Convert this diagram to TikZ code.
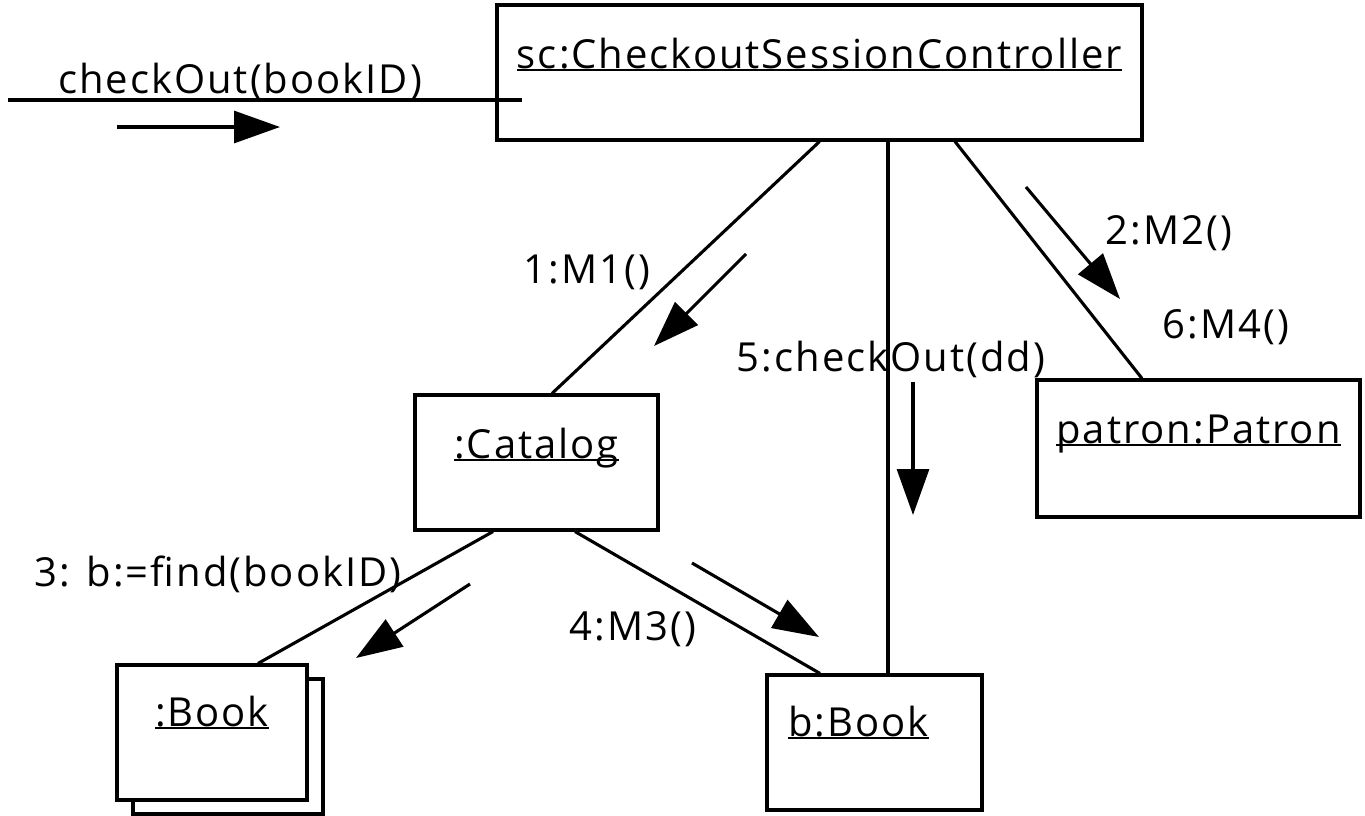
\documentclass[tikz,border=0pt]{standalone}
\usepackage{fontspec}
\setmainfont{Open Sans}[LetterSpace=5]
\usetikzlibrary{arrows.meta,calc}

% underlined object name, rule sitting just under the baseline
\newcommand\objul[1]{\setbox0\hbox{#1}\rlap{\rule[-3pt]{\wd0}{2.8pt}}\box0}

\tikzset{
  objbox/.style={draw, line width=3.1pt, fill=white, inner sep=0pt},
  lbl/.style={anchor=base, inner sep=0pt, font=\fontsize{40}{46}\selectfont},
  link/.style={line width=3.1pt},
  msg/.style={line width=3.1pt, -{Triangle[length=46pt,width=32pt]}},
}

\begin{document}
\begin{tikzpicture}[x=1pt,y=-1pt]
\useasboundingbox (0,0) rectangle (1365,815);

% objects
\node[objbox, minimum width=645, minimum height=135] (ctrl) at (819.5,72.5) {};
\node[objbox, minimum width=243, minimum height=135] (catalog) at (536.5,462.5) {};
\node[objbox, minimum width=323, minimum height=137] (patron) at (1198.5,448.5) {};
\node[objbox, minimum width=215, minimum height=135] (bbook) at (874.5,742.5) {};
\node[objbox, minimum width=190, minimum height=135] (bookback) at (228,746.5) {};
\node[objbox, minimum width=190, minimum height=135] (book) at (212,732.5) {};

\node[lbl] (ctrlname) at ($(ctrl.north)+(0,65)$) {\objul{sc:CheckoutSessionController}};
\node[lbl] (catalogname) at ($(catalog.north)+(0,65)$) {\objul{:Catalog}};
\node[lbl] (patronname) at ($(patron.north)+(0,65)$) {\objul{patron:Patron}};
\node[lbl] (bookname) at ($(book.north)+(0,63)$) {\objul{:Book}};
\node[lbl] (bbookname) at ($(bbook.north)+(-16,63)$) {\objul{b:Book}};

% links
\draw[link] (ctrl.south) -- ([xshift=15.5]catalog.north);
\draw[link] ([xshift=68.5]ctrl.south) -- ([xshift=13.5]bbook.north);
\draw[link] ([xshift=135.5]ctrl.south) -- ([xshift=-56.5]patron.north);
\draw[link] ([xshift=-43.5]catalog.south) -- ([xshift=46]book.north);
\draw[link] ([xshift=38.5]catalog.south) -- ([xshift=-54.5]bbook.north);

% incoming message
\coordinate (inStart) at (8,100);
\draw[link] (inStart) -- ($(inStart -| ctrl.west)+(27,0)$);
\node[lbl] (inLbl) at (240,93) {checkOut(bookID)};
\coordinate (inA) at (117,127);
\coordinate (inB) at (280,127);
\draw[msg] (inA) -- (inB);

% messages along links
\node[lbl] (m1) at (587,283) {1:M1()};
\coordinate (m1a) at (746,254);
\coordinate (m1b) at (654,346);
\draw[msg] (m1a) -- (m1b);

\node[lbl] (m2) at (1169,244) {2:M2()};
\coordinate (m2a) at (1026,187);
\coordinate (m2b) at (1120,299);
\draw[msg] (m2a) -- (m2b);

\node[lbl] (m6) at (1226,338) {6:M4()};

\node[lbl] (m5) at (891,371) {5:checkOut(dd)};
\coordinate (m5a) at (913,382);
\coordinate (m5b) at (913,515);
\draw[msg] (m5a) -- (m5b);

\node[lbl] (m3) at (218,586) {3: b:=find(bookID)};
\coordinate (m3a) at (470,584);
\coordinate (m3b) at (356,658);
\draw[msg] (m3a) -- (m3b);

\node[lbl] (m4) at (633,640) {4:M3()};
\coordinate (m4a) at (692,563);
\coordinate (m4b) at (819,637);
\draw[msg] (m4a) -- (m4b);
\end{tikzpicture}
\end{document}
